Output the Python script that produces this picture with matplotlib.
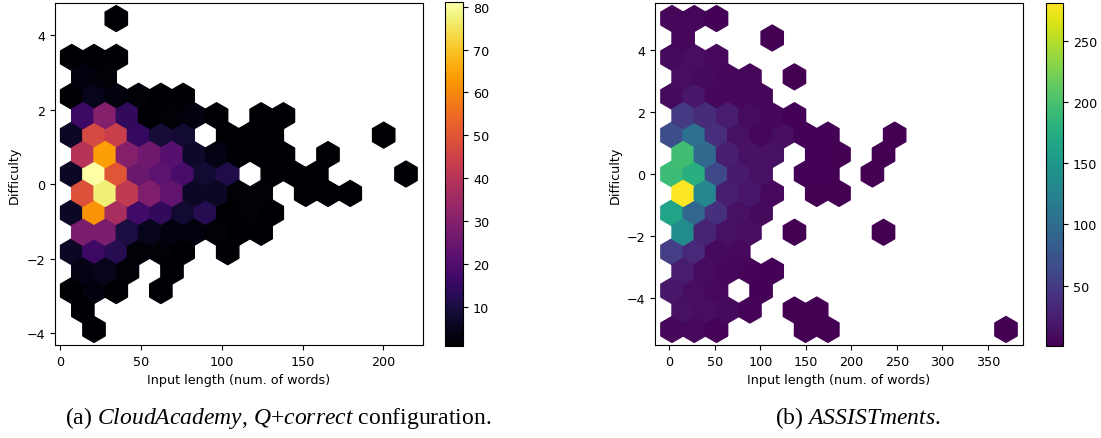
import numpy as np
import matplotlib
matplotlib.use("Agg")
import matplotlib.pyplot as plt

# ---------------- CloudAcademy (Q+correct) ----------------
# (input length, difficulty, number of questions) per occupied hexagon
ca_length = [
    34.6,
    7, 20.8, 34.6,
    13.9, 27.7,
    7, 20.8, 34.6, 48.4, 62.2, 76,
    13.9, 27.7, 41.5, 55.3, 69.1, 82.9, 96.7, 124.3, 138.1,
    7, 20.8, 34.6, 48.4, 62.2, 76, 103.6, 117.4, 131.2, 200.2,
    13.9, 27.7, 41.5, 55.3, 69.1, 82.9, 96.7, 110.5, 124.3, 138.1, 165.7,
    7, 20.8, 34.6, 48.4, 62.2, 76, 89.8, 103.6, 131.2, 145, 158.8, 214,
    13.9, 27.7, 41.5, 55.3, 69.1, 82.9, 96.7, 110.5, 124.3, 151.9, 165.7, 179.5,
    7, 20.8, 34.6, 48.4, 62.2, 76, 89.8, 103.6, 117.4, 131.2,
    13.9, 27.7, 41.5, 55.3, 69.1, 82.9, 96.7, 110.5, 124.3,
    7, 20.8, 34.6, 48.4, 62.2, 76, 103.6,
    13.9, 27.7, 41.5, 69.1,
    7, 20.8, 34.6, 62.2,
    13.9,
    20.8,
]
ca_difficulty = (
    [4.45] * 1 + [3.41] * 3 + [2.88] * 2 + [2.36] * 6 + [1.84] * 9 +
    [1.32] * 10 + [0.80] * 11 + [0.28] * 12 + [-0.25] * 12 + [-0.77] * 10 +
    [-1.29] * 9 + [-1.81] * 7 + [-2.33] * 4 + [-2.86] * 4 + [-3.38] * 1 +
    [-3.9] * 1
)
ca_count = [
    1,
    1, 1, 1,
    3, 2,
    1, 5, 3, 2, 1, 1,
    16, 30, 14, 1, 2, 3, 1, 1, 1,
    6, 47, 44, 15, 9, 8, 1, 1, 1, 1,
    40, 64, 30, 26, 21, 7, 4, 1, 1, 1, 1,
    6, 81, 50, 25, 22, 18, 8, 11, 1, 1, 1, 1,
    49, 77, 42, 29, 23, 6, 6, 2, 2, 1, 1, 1,
    6, 62, 37, 17, 14, 8, 12, 1, 2, 1,
    28, 28, 10, 5, 3, 3, 2, 1, 1,
    6, 16, 12, 2, 2, 1, 1,
    4, 5, 2, 1,
    1, 3, 1, 1,
    1,
    1,
]

# ---------------- ASSISTments ----------------
as_length = [
    3, 27.5, 51.9,
    15.2, 113.1,
    3, 27.5, 51.9,
    15.2, 39.7, 64.2, 88.6, 137.6,
    3, 27.5, 51.9, 76.4, 100.9,
    15.2, 39.7, 64.2, 88.6, 113.1, 137.6,
    3, 27.5, 51.9, 76.4, 100.9, 125.3, 149.8, 174.3, 247.7,
    15.2, 39.7, 64.2, 88.6, 113.1, 162.0, 186.5, 235.4,
    3, 27.5, 51.9, 76.4, 100.9, 149.8, 174.3, 223.2,
    15.2, 39.7, 64.2, 88.6, 113.1, 162.0, 186.5,
    3, 27.5, 51.9, 76.4, 100.9,
    15.2, 39.7, 64.2, 88.6, 137.6, 235.4,
    3, 27.5, 51.9, 76.4,
    15.2, 39.7, 64.2, 88.6, 113.1,
    3, 27.5, 51.9, 100.9,
    15.2, 39.7, 64.2, 88.6, 137.6, 162.0,
    3, 27.5, 51.9, 149.8, 174.3, 370,
]
as_difficulty = (
    [5.0] * 3 + [4.375] * 2 + [3.75] * 3 + [3.125] * 5 + [2.5] * 5 +
    [1.875] * 6 + [1.25] * 9 + [0.625] * 8 + [0.0] * 8 + [-0.625] * 7 +
    [-1.25] * 5 + [-1.875] * 6 + [-2.5] * 4 + [-3.125] * 5 + [-3.75] * 4 +
    [-4.375] * 6 + [-5.0] * 6
)
as_count = [
    6, 5, 3,
    6, 1,
    8, 10, 7,
    10, 8, 6, 5, 1,
    8, 18, 6, 6, 5,
    48, 35, 22, 9, 6, 3,
    68, 105, 38, 13, 5, 10, 3, 3, 1,
    195, 95, 25, 14, 12, 3, 2, 1,
    192, 178, 62, 20, 14, 3, 3, 1,
    281, 130, 25, 18, 7, 2, 1,
    163, 92, 40, 12, 8,
    135, 28, 12, 10, 1, 1,
    52, 32, 8, 7,
    22, 9, 6, 4, 3,
    18, 10, 7, 3,
    12, 10, 8, 4, 2, 2,
    6, 7, 4, 2, 2, 1,
]

captions = ["(a) $\\mathit{CloudAcademy}$, $\\mathit{Q{+}correct}$ configuration.",
            "(b) $\\mathit{ASSISTments}$."]
xlabel = "Input length (num. of words)"
ylabel = "Difficulty"

plt.rcParams["font.size"] = 9.2
plt.rcParams["mathtext.fontset"] = "custom"
plt.rcParams["mathtext.it"] = "Liberation Serif:italic"
plt.rcParams["mathtext.rm"] = "Liberation Serif"

W, H = 1101, 439
fig = plt.figure(figsize=(W / 100, H / 100), dpi=100)

def px(l, b, r, t):
    return [l / W, 1 - b / H, (r - l) / W, (b - t) / H]

ax1 = fig.add_axes(px(55, 346, 422.7, 4))
cax1 = fig.add_axes(px(445, 346.7, 463.3, 3.3))
ax2 = fig.add_axes(px(655.3, 346, 1022.7, 4))
cax2 = fig.add_axes(px(1045.7, 346.5, 1063.3, 3.8))

hb1 = ax1.hexbin(ca_length, ca_difficulty, C=ca_count, reduce_C_function=np.sum,
                 gridsize=15, cmap="inferno")
fig.colorbar(hb1, cax=cax1)
hb2 = ax2.hexbin(as_length, as_difficulty, C=as_count, reduce_C_function=np.sum,
                 gridsize=15, cmap="viridis")
fig.colorbar(hb2, cax=cax2)

for ax in (ax1, ax2):
    ax.set_xlabel(xlabel)
    ax.set_ylabel(ylabel)

fig.text(278 / W, 1 - 418 / H, captions[0], ha="center", va="center",
         fontsize=17, family="Liberation Serif")
fig.text(858 / W, 1 - 418 / H, captions[1], ha="center", va="center",
         fontsize=17, family="Liberation Serif")

fig.savefig("out.png", dpi=100)
